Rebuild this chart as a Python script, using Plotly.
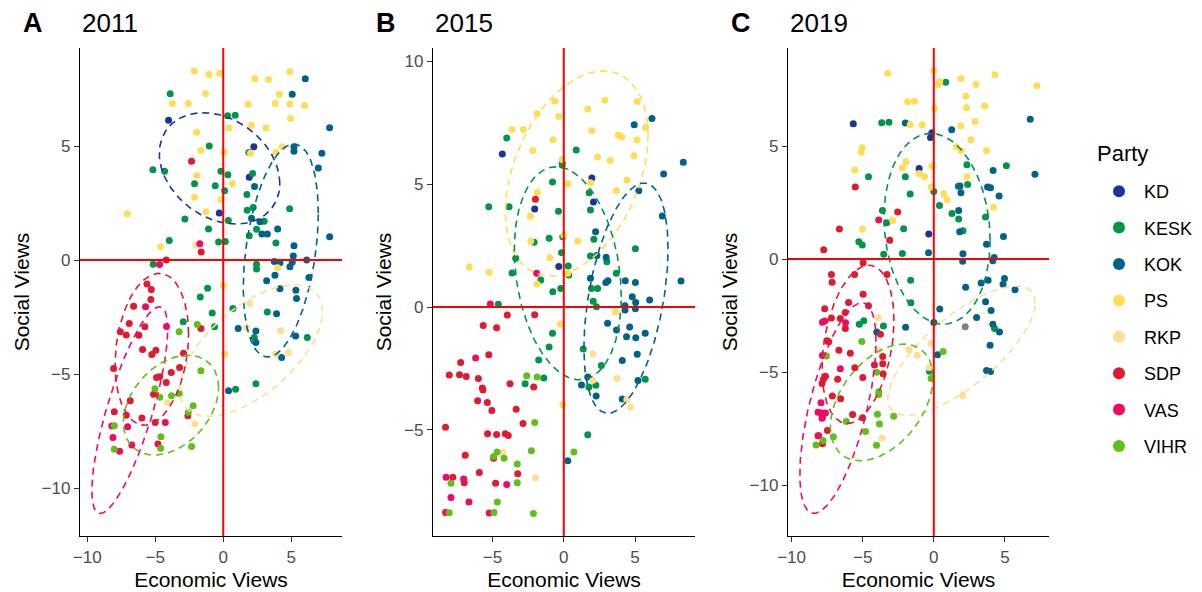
import numpy as np
import plotly.graph_objects as go

FONT = "Liberation Sans, Arial, Helvetica, sans-serif"

parties = ["KD", "KESK", "KOK", "PS", "RKP", "SDP", "VAS", "VIHR"]
party_colors = {
    "KD": "#18359B", "KESK": "#01954B", "KOK": "#006288", "PS": "#FFDE55",
    "RKP": "#FFDD93", "SDP": "#E11931", "VAS": "#F00A64", "VIHR": "#61BF1A",
}
other_color = "#808080"
years = ["2011", "2015", "2019"]
panel_letters = ["A", "B", "C"]
legend_title = "Party"

# ---------------- 2011 (panel A) ----------------
a_KD_x = [-4.02, 2.25, 1.91, -0.29]
a_KD_y = [6.13, 4.97, 3.63, 2.06]
a_KESK_x = [-3.9, 0.32, 0.88, -1.03, 1.89, -5.17, -4.31, -2.11, -0.17, 0.34, -0.59, 0.1, 2.16, 1.74, 1.76, 2.2, 4.88,
            0.37, -2.82, 3.01, -1.08, 2.45, 1.91, 3.87, -0.34, 0.15, -3.97, -5.15, 2.45, 2.45,
            -1.15, -1.69, -0.81, 0.71, -2.94, -0.64, 3.24, 2.28, 6.18, 2.4, 0.91]
a_KESK_y = [7.29, 6.33, 6.35, 5.0, 4.72, 3.96, 3.9, 3.35, 3.89, 3.74, 3.26, 3.04, 3.8, 2.88, 2.19, 2.31, 2.25,
            1.74, 1.8, 1.7, 1.36, 1.35, 1.07, 0.75, 0.79, 0.82, 0.86, -0.18, -0.18, -0.39,
            -1.24, -1.62, -2.32, -2.12, -2.7, -2.92, -2.28, -3.39, -3.39, -5.42, -5.67]
a_KOK_x = [6.03, 5.07, 7.82, 5.2, 5.2, 7.25, 6.99, 2.3, 2.08, 2.7, 2.84, 3.24, 4.0, 7.82, 5.2, 5.15, 6.13, 3.75, 4.17,
           4.9, 5.07, 6.3, 3.19, 3.8, 4.17, 5.39, 5.34, 1.1, 2.4, 2.4, 3.92, 5.32, 4.29, 0.39]
a_KOK_y = [7.95, 7.27, 5.8, 4.97, 4.77, 4.68, 4.04, 3.23, 1.83, 1.68, 1.14, 1.14, 1.36, 1.02, 0.63, 0.18, 0.0, -0.06, -0.12,
           -0.29, -0.1, -0.76, -0.91, -0.67, -1.26, -1.68, -1.32, -3.0, -3.11, -3.61, -2.35, -3.33, -4.27, -5.73]
a_PS_x = [-2.13, -1.05, -0.25, 2.33, 3.33, 4.9, -1.3, -3.75, -2.57, 1.84, 4.12, 3.82, 4.9, 5.98, 4.95, 0.42, 2.08, 3.14,
          -1.96, 4.34, 3.87, -1.64, 0.05, 2.0, -1.94, 0.69, -2.11, -0.17, -1.27, -7.06, -4.6, 4.0, 0.0, 0.1]
a_PS_y = [8.29, 8.14, 8.19, 7.95, 7.92, 8.26, 7.31, 6.87, 6.87, 6.83, 7.27, 6.87, 6.84, 6.78, 6.21, 5.79, 5.91, 5.79,
          5.61, 4.97, 4.72, 4.82, 4.74, 4.68, 3.71, 3.35, 2.76, 2.66, 2.12, 2.03, 0.58, -0.34, -1.13, -4.12]
a_RKP_x = [-2.0, 1.94, 1.74, 4.22, 3.85, 4.8, -4.09, -2.08]
a_RKP_y = [0.66, -1.9, -2.97, -3.1, -4.12, -4.05, -6.26, -7.19]
a_SDP_x = [-2.33, -1.62, -4.19, -5.61, -5.29, -5.32, -6.59, -6.91, -7.57, -7.13, -6.2, -5.76, -5.93, -4.95, -5.25,
           -2.92, -1.64, -8.06, -3.82, -3.21, -4.9, -4.68, -4.19, -5.12, -6.84, -8.01, -7.13, -5.98, -5.0, -2.6]
a_SDP_y = [4.33, 0.35, 0.0, -1.05, -1.29, -1.73, -2.02, -2.78, -3.14, -3.29, -3.3, -2.92, -3.92, -3.95, -4.14,
           -4.09, -3.0, -4.75, -4.93, -4.71, -5.15, -5.12, -5.37, -5.88, -6.17, -6.65, -6.8, -6.92, -7.12, -6.83]
a_VAS_x = [-1.72, -4.68, -5.71, -4.17, -4.26, -8.19, -7.03, -8.11, -6.72, -7.62, -4.8]
a_VAS_y = [0.72, -0.19, -2.05, -2.91, -7.12, -7.28, -7.31, -7.78, -8.11, -8.38, -8.07]
a_VIHR_x = [-3.24, -1.91, -1.64, -5.02, -4.66, -3.8, -3.24, -2.21, -2.57, -8.01, -8.01, -4.58, -4.6, -2.33]
a_VIHR_y = [-3.14, -2.82, -4.85, -5.64, -6.02, -5.95, -5.85, -6.39, -6.67, -7.27, -8.3, -7.75, -8.25, -8.17]
a_other_x = []
a_other_y = []

# ---------------- 2015 (panel B) ----------------
b_KD_x = [-4.31, 1.97, 2.08, -2.04, -0.35]
b_KD_y = [6.22, 5.24, 4.27, 3.98, 1.65]
b_KESK_x = [-4.0, 0.87, -0.11, -0.11, -0.79, 1.78, -5.26, -3.84, -0.37, 1.87, -2.08, -1.03, -0.07, 2.11, -3.37, -0.16,
            1.87, 3.02, 5.02, 3.68, -3.63, 0.31, 0.35, -1.61, -0.77, -0.21, 1.94, 2.37, -4.59, 2.06, 2.29, -0.79,
            -1.03, -1.76, 1.36, 2.63, -1.4, -2.71, 1.76, 2.25, 5.71, 1.68]
b_KESK_y = [6.87, 6.38, 5.87, 5.77, 5.08, 4.65, 4.08, 4.08, 3.89, 3.94, 2.63, 2.8, 2.86, 2.75, 1.98, 2.21,
            2.07, 1.84, 2.37, 1.37, 1.38, 1.67, 1.3, 1.1, 0.62, 0.75, 0.75, 0.75, 0.11, 0.23, 0.01, -1.07,
            -1.63, -2.15, -1.71, -2.38, -2.89, -3.12, -3.25, -3.18, -2.94, -5.19]
b_KOK_x = [6.18, 4.94, 8.38, 7.0, 5.26, 6.91, 2.23, 2.97, 2.32, 2.95, 3.1, 1.87, 4.31, 5.02, 8.22, 4.8, 6.02, 5.04,
           5.02, 4.29, 4.29, 3.07, 3.7, 4.62, 4.4, 5.05, 5.71, 5.15, 4.1, 1.68, 1.24, 2.27, 4.1, 5.2, 0.28]
b_KOK_y = [7.66, 7.41, 5.88, 5.41, 4.73, 3.7, 3.06, 2.02, 2.09, 1.0, 1.07, 1.17, 1.07, 1.0, 1.06, 0.42, 0.28, 0.18,
           -0.07, 0.05, -0.12, -0.66, -0.93, -0.81, -1.21, -1.25, -1.07, -1.92, -2.18, -2.85, -3.17, -3.62, -3.74,
           -2.99, -6.25]
b_PS_x = [-0.63, 2.88, 5.15, 1.68, -1.87, -0.35, -3.63, -2.84, 1.97, 3.82, 4.07, 5.73, 5.13, -0.75, -2.18, 2.37, 3.26,
          4.92, -0.11, 4.42, 3.68, 0.28, 1.87, -1.85, -2.34, 0.98, -2.32, -0.98, -6.63, -5.23, -1.87, 0.28, 0.0,
          -0.26, -0.07, 3.63]
b_PS_y = [8.37, 8.41, 8.35, 8.05, 7.86, 7.74, 7.22, 7.22, 7.18, 6.98, 6.91, 7.3, 6.79, 6.8, 6.36, 6.1, 5.96,
          6.15, 6.0, 5.16, 4.74, 5.01, 5.05, 4.66, 3.69, 2.67, 2.67, 2.0, 1.63, 1.41, 0.93, 1.37, 2.93,
          -0.7, -3.97, -0.2]
b_RKP_x = [2.04, 3.73, 2.04, 4.42, 4.68, -4.26, -1.99]
b_RKP_y = [-1.9, -2.91, -2.98, -3.77, -4.07, -5.91, -6.94]
b_SDP_x = [-1.99, -3.96, -2.04, -5.65, -4.71, -5.26, -7.23, -8.03, -7.31, -6.84, -5.99, -5.71, -5.67, -3.77, -2.11,
           -6.04, -5.36, -5.04, -3.34, -2.86, -8.29, -5.34, -4.71, -4.1, -3.89, -6.91, -4.92, -5.92, -3.23, -7.78,
           -6.98, -4.78]
b_SDP_y = [4.38, -0.33, -0.31, -0.75, -0.84, -1.94, -2.26, -2.76, -2.75, -2.83, -2.91, -3.29, -3.37, -3.12, -3.25,
           -3.81, -3.88, -4.21, -4.16, -4.74, -4.89, -5.15, -5.18, -5.15, -5.22, -6.03, -6.15, -6.73, -6.78, -6.92,
           -7.15, -7.17]
b_VAS_x = [-1.9, -5.15, -6.18, -8.25, -7.02, -4.0, -7.91, -6.65, -8.29, -5.23]
b_VAS_y = [1.37, 0.12, -2.07, -6.92, -6.99, -7.22, -7.74, -7.93, -8.35, -8.37]
b_VIHR_x = [-2.6, -1.87, -2.04, -2.27, 0.71, -4.92, -4.68, -4.19, -3.26, -3.26, -7.91, -4.66, -4.89, -2.13, -8.03]
b_VIHR_y = [-2.79, -2.85, -4.7, -5.84, -5.89, -6.08, -5.89, -6.15, -6.38, -7.15, -7.17, -7.93, -8.35, -8.4, -8.36]
b_other_x = []
b_other_y = []

# ---------------- 2019 (panel C) ----------------
c_KD_x = [-5.66, -0.14, -0.23, -1.03, -0.35]
c_KD_y = [5.99, 5.59, 5.38, 4.01, 1.11]
c_KESK_x = [0.84, -3.66, -3.15, 2.33, 5.1, -4.59, -2.0, 1.72, 2.38, -1.66, 0.0, 0.4, 1.28, 1.75, -3.61, -3.31, -2.12,
            2.05, 3.64, -5.27, -5.03, -3.52, -2.21, -1.63, -1.61, -4.92, -5.24, -3.54, -0.3, 4.27]
c_KESK_y = [7.83, 6.03, 6.05, 4.17, 4.13, 3.64, 3.64, 3.22, 3.3, 2.88, 2.99, 2.37, 2.02, 1.78, 2.15, 1.61, 1.34,
            1.25, 1.86, 0.77, 0.62, 0.21, 0.25, -0.93, -1.93, -2.73, -2.88, -2.96, -4.96, -3.07]
c_KOK_x = [-2.0, 1.26, 6.78, 7.11, 4.17, 1.84, 1.91, 3.78, 3.99, 4.59, 1.75, 1.82, 4.9, 3.71, -0.37, 2.05, 2.03, 4.24,
           4.15, 3.82, 4.97, 2.24, 3.33, 4.87, 5.71, 3.64, 4.03, 0.42, 0.0, -1.98, 3.01, 4.15, 4.62, 3.96, 3.71,
           3.99, 0.26, -4.01]
c_KOK_y = [6.02, 5.72, 6.19, 3.75, 3.92, 3.24, 2.94, 3.19, 3.16, 2.79, 2.15, 1.21, 1.0, 0.66, 0.28, 0.24, -0.1, 0.07,
           -0.07, -0.93, -0.86, -1.24, -1.06, -1.11, -1.36, -1.89, -2.27, -2.21, -2.8, -3.02, -2.58, -2.88, -3.23,
           -3.81, -4.93, -4.97, -4.23, -3.22]
c_PS_x = [-3.24, 0.0, 0.33, 0.42, 1.91, 4.29, 2.96, 7.25, 2.26, 2.31, 3.59, -1.84, -1.35, 0.05, -1.66, -0.82, 1.89,
          2.91, 2.61, 1.59, 1.91, 3.71, -5.03, -5.1, -1.96, -2.21, -0.14, -5.55, -1.03, -0.65, 2.33, -0.19, 0.7,
          0.93, 4.2, -2.89, -5.01]
c_PS_y = [8.22, 8.33, 7.73, 7.86, 7.99, 8.16, 7.73, 7.67, 7.21, 6.7, 6.77, 6.96, 6.98, 6.67, 5.94, 5.94, 5.9,
          6.09, 5.28, 4.97, 4.79, 4.81, 4.94, 4.73, 4.31, 4.04, 4.12, 3.94, 3.79, 3.64, 3.64, 3.19, 2.89,
          2.64, 2.29, 1.71, 1.33]
c_RKP_x = [-3.92, -3.89, -1.75, -1.17, -0.19, -0.33, 2.03, -3.64]
c_RKP_y = [-2.58, -4.03, -4.01, -4.25, -3.73, -4.79, -6.03, -7.91]
c_SDP_x = [-5.52, -6.64, -2.54, -3.1, -7.74, -4.97, -7.2, -5.57, -3.29, -7.15, -4.97, -5.99, -4.59, -7.67, -6.22,
           -7.2, -6.57, -7.67, -6.22, -3.75, -7.39, -7.5, -6.67, -5.87, -3.59, -3.59, -4.17, -5.55, -3.57, -7.62,
           -6.76, -4.99, -7.76, -7.13, -6.55, -7.86, -5.71, -5.01, -7.83, -8.09, -7.83, -7.48]
c_SDP_y = [3.19, 1.33, 2.08, 0.83, 0.41, -0.16, -0.68, -0.68, -0.68, -1.02, -1.56, -1.92, -2.06, -2.2, -2.36,
           -2.6, -2.63, -2.74, -3.07, -3.32, -3.66, -3.61, -4.03, -4.17, -4.31, -4.63, -4.69, -4.81, -5.07, -5.18,
           -5.31, -5.24, -5.32, -6.06, -6.18, -5.5, -6.87, -7.02, -6.98, -7.82, -8.17, -7.58]
c_VAS_x = [-3.87, -6.2, -7.83, -6.57, -7.93, -8.14, -7.9, -7.62, -7.86, -8.14, -7.83]
c_VAS_y = [1.73, -2.82, -4.26, -4.85, -6.36, -6.78, -6.81, -6.81, -7.04, -7.82, -2.79]
c_VIHR_x = [-5.06, -4.01, -3.87, -3.87, -3.96, -3.82, -2.82, -4.8, -6.15, -7.06, -7.79, -8.28, -4.03, -0.19, 0.65, -7.55]
c_VIHR_y = [-3.64, -5.01, -5.87, -5.99, -6.86, -7.3, -6.95, -7.63, -7.18, -7.86, -8.02, -8.22, -8.24, -5.28, -4.09, -4.29]
c_other_x = [2.21]
c_other_y = [-2.99]

# Ellipse parameters: party, centre x, centre y, half-width x, half-height y, correlation
a_ell_party = ["KD", "KOK", "RKP", "SDP", "VAS", "VIHR"]
a_ell_cx = [-0.27, 4.23, 2.05, -5.25, -6.87, -3.84]
a_ell_cy = [4.02, 0.42, -3.97, -3.91, -6.58, -6.36]
a_ell_rx = [4.43, 2.76, 5.25, 2.7, 2.79, 3.5]
a_ell_ry = [2.44, 4.67, 2.88, 3.33, 4.53, 2.19]
a_ell_rho = [-0.27, 0.35, 0.6, 0.2, 0.78, 0.35]

b_ell_party = ["PS", "KESK", "KOK"]
b_ell_cx = [0.91, 0.28, 4.36]
b_ell_cy = [5.43, 1.37, 0.36]
b_ell_rx = [5.0, 3.75, 2.95]
b_ell_ry = [4.17, 4.33, 4.68]
b_ell_rho = [0.37, -0.22, 0.43]

c_ell_party = ["KESK", "RKP", "SDP", "VAS", "VIHR"]
c_ell_cx = [0.23, 1.95, -5.33, -6.74, -3.66]
c_ell_cy = [1.34, -4.05, -3.77, -6.59, -6.34]
c_ell_rx = [3.73, 5.19, 2.53, 2.68, 3.61]
c_ell_ry = [4.22, 2.86, 3.5, 4.66, 2.58]
c_ell_rho = [-0.12, 0.74, 0.3, 0.63, 0.42]

# axis ranges / ticks
x_ranges = [[-10.53, 8.73], [-9.17, 9.2], [-10.25, 8.1]]
y_ranges = [[-12.1, 9.3], [-9.31, 10.53], [-12.25, 9.34]]
x_ticks = [[-10, -5, 0, 5], [-5, 0, 5], [-10, -5, 0, 5]]
y_ticks = [[-10, -5, 0, 5], [-5, 0, 5, 10], [-10, -5, 0, 5]]

g = globals()
panels = []
for p in ["a", "b", "c"]:
    pts = {}
    for party in parties:
        pts[party] = (g[f"{p}_{party}_x"], g[f"{p}_{party}_y"])
    ells = list(zip(g[f"{p}_ell_party"], g[f"{p}_ell_cx"], g[f"{p}_ell_cy"],
                    g[f"{p}_ell_rx"], g[f"{p}_ell_ry"], g[f"{p}_ell_rho"]))
    panels.append((pts, (g[f"{p}_other_x"], g[f"{p}_other_y"]), ells))

# the page adds an 8px body margin; positions below are measured on the page and shifted by it
OFF = 8
W, H = 1202 - OFF, 592 - OFF
x_domains_px = [(80 - OFF, 342 - OFF), (433 - OFF, 695 - OFF), (788 - OFF, 1049 - OFF)]
y_domain_px = (48 - OFF, 536 - OFF)

fig = go.Figure()
t = np.linspace(0, 2 * np.pi, 241)

shown = set()
for i, (pts, other, ells) in enumerate(panels):
    xa = "x" if i == 0 else f"x{i+1}"
    ya = "y" if i == 0 else f"y{i+1}"
    for party in parties:
        xs, ys = pts[party]
        fig.add_trace(go.Scatter(
            x=xs, y=ys, mode="markers", name=party, legendgroup=party,
            showlegend=party not in shown,
            marker=dict(color=party_colors[party], size=7, line=dict(width=0)),
            xaxis=xa, yaxis=ya))
        shown.add(party)
    if other[0]:
        fig.add_trace(go.Scatter(x=other[0], y=other[1], mode="markers", showlegend=False,
                                 marker=dict(color=other_color, size=7, line=dict(width=0)),
                                 xaxis=xa, yaxis=ya))
    for party, cx, cy, rx, ry, rho in ells:
        ex = cx + rx * np.cos(t)
        ey = cy + ry * (rho * np.cos(t) + np.sqrt(1 - rho ** 2) * np.sin(t))
        fig.add_trace(go.Scatter(x=ex, y=ey, mode="lines", showlegend=False, hoverinfo="skip",
                                 line=dict(color=party_colors[party], width=1.6, dash="7px,5px"),
                                 xaxis=xa, yaxis=ya))

layout = dict(
    width=W, height=H, margin=dict(l=0, r=0, t=0, b=0, autoexpand=False),
    paper_bgcolor="white", plot_bgcolor="white",
    font=dict(family=FONT, color="black"),
    showlegend=True,
    legend=dict(
        font=dict(size=18, family=FONT, color="black"),
        x=(1094 - OFF) / W, xanchor="left", y=1 - (173 - OFF) / H, yanchor="top",
        tracegroupgap=10, itemsizing="constant", itemwidth=40, bgcolor="rgba(0,0,0,0)",
    ),
)
ydom = [1 - y_domain_px[1] / H, 1 - y_domain_px[0] / H]
for i in range(3):
    sx = "" if i == 0 else str(i + 1)
    xd = [x_domains_px[i][0] / W, x_domains_px[i][1] / W]
    layout[f"xaxis{sx}"] = dict(
        domain=xd, range=x_ranges[i], tickvals=x_ticks[i], showgrid=False, zeroline=False, automargin=False,
        showline=True, linecolor="black", linewidth=1.4, ticks="outside", ticklen=5, tickwidth=1.1,
        tickcolor="#333333", tickfont=dict(size=17, color="#4D4D4D", family=FONT),
        anchor=f"y{sx}", title=dict(text="Economic Views", font=dict(size=21, color="black", family=FONT), standoff=6),
    )
    layout[f"yaxis{sx}"] = dict(
        domain=ydom, range=y_ranges[i], tickvals=y_ticks[i], showgrid=False, zeroline=False, automargin=False,
        showline=True, linecolor="black", linewidth=1.4, ticks="outside", ticklen=5, tickwidth=1.1,
        tickcolor="#333333", tickfont=dict(size=17, color="#4D4D4D", family=FONT),
        anchor=f"x{sx}", title=dict(text="Social Views", font=dict(size=21, color="black", family=FONT), standoff=6),
    )
fig.update_layout(**layout)

shapes = []
annotations = []
for i in range(3):
    sx = "" if i == 0 else str(i + 1)
    shapes.append(dict(type="line", xref=f"x{sx}", yref=f"y{sx} domain", x0=0, x1=0, y0=0, y1=1,
                       line=dict(color="#FF0000", width=2), layer="above"))
    shapes.append(dict(type="line", xref=f"x{sx} domain", yref=f"y{sx}", x0=0, x1=1, y0=0, y1=0,
                       line=dict(color="#FF0000", width=2), layer="above"))
    annotations.append(dict(text=years[i], xref="paper", yref="paper", x=x_domains_px[i][0] / W,
                            y=1 - (23 - OFF) / H,
                            xanchor="left", yanchor="middle", showarrow=False,
                            font=dict(size=26, family=FONT, color="black")))
    annotations.append(dict(text=f"<b>{panel_letters[i]}</b>", xref="paper", yref="paper",
                            x=(x_domains_px[i][0] - 59) / W, y=1 - (23 - OFF) / H,
                            xanchor="left", yanchor="middle", showarrow=False,
                            font=dict(size=27, family=FONT, color="black")))
annotations.append(dict(text=legend_title, xref="paper", yref="paper", x=(1095 - OFF) / W, y=1 - (153 - OFF) / H,
                        xanchor="left", yanchor="middle", showarrow=False,
                        font=dict(size=22, family=FONT, color="black")))
fig.update_layout(shapes=shapes, annotations=annotations)

fig.write_html("out.html")
